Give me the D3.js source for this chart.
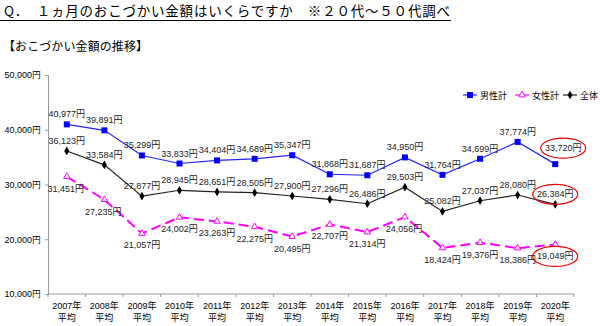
<!DOCTYPE html>
<html>
<head>
<meta charset="utf-8">
<script src="https://cdn.jsdelivr.net/npm/d3@7"></script>
<style>
  body { margin: 0; background: #fff; }
  svg { display: block; font-family: "Liberation Sans", Arial, "Noto Sans CJK JP", sans-serif; }
</style>
</head>
<body>
<div id="chart"></div>
<script>
// data
const years = ["2007年","2008年","2009年","2010年","2011年","2012年","2013年","2014年","2015年","2016年","2017年","2018年","2019年","2020年"];
const male = [40977, 39891, 35299, 33833, 34404, 34689, 35347, 31868, 31687, 34950, 31764, 34699, 37774, 33720];
const female = [31451, 27235, 21057, 24002, 23263, 22275, 20495, 22707, 21314, 24056, 18424, 19376, 18386, 19049];
const total = [36123, 33584, 27877, 28945, 28651, 28505, 27900, 27296, 26486, 29503, 25082, 27037, 28080, 26384];
const yTicks = [10000, 20000, 30000, 40000, 50000];
const seriesNames = ["男性計", "女性計", "全体"];

const W = 600, H = 326;
const margin = {top: 75, right: 26, bottom: 32, left: 48};
const width = W - margin.left - margin.right,
      height = H - margin.top - margin.bottom;

const svg = d3.select("#chart").append("svg")
    .attr("width", W).attr("height", H);

// title
svg.append("text")
    .attr("x", 4).attr("y", 16)
    .style("font-family", "'Noto Sans CJK JP', sans-serif")
    .style("font-size", "13.5px")
    .attr("textLength", 446).attr("lengthAdjust", "spacing")
    .text("Q．　１ヵ月のおこづかい金額はいくらですか　※２０代～５０代調べ");
svg.append("line")
    .attr("x1", 0).attr("x2", 451).attr("y1", 20.5).attr("y2", 20.5)
    .attr("stroke", "#000").attr("stroke-width", 1.2);
svg.append("text")
    .attr("x", 3).attr("y", 51)
    .style("font-family", "'Noto Sans CJK JP', sans-serif")
    .style("font-size", "12px")
    .attr("textLength", 145).attr("lengthAdjust", "spacing")
    .text("【おこづかい金額の推移】");

const g = svg.append("g")
    .attr("transform", "translate(" + margin.left + "," + margin.top + ")");

const x = d3.scaleBand().domain(years).range([0, width]);
const y = d3.scaleLinear().domain([10000, 50000]).range([height, 0]);
const cx = d => x(d) + x.bandwidth() / 2;

// y axis
const yAxis = g.append("g")
    .call(d3.axisLeft(y).tickValues(yTicks).tickSize(3).tickPadding(4)
      .tickFormat(d => d3.format(",")(d) + "円"));
yAxis.select(".domain").attr("stroke", "#999");
yAxis.selectAll(".tick line").attr("stroke", "#999");
yAxis.selectAll("text").style("font-size", "9px").attr("fill", "#000");

// x axis
const xAxis = g.append("g").attr("transform", "translate(0," + height + ")");
xAxis.append("line").attr("x1", 0).attr("x2", width).attr("stroke", "#999");
xAxis.selectAll("line.tk").data(d3.range(years.length + 1)).enter().append("line")
    .attr("class", "tk")
    .attr("x1", i => i * x.bandwidth()).attr("x2", i => i * x.bandwidth())
    .attr("y1", 0).attr("y2", 3).attr("stroke", "#999");
const xl = xAxis.selectAll("text").data(years).enter().append("text")
    .attr("text-anchor", "middle")
    .style("font-size", "9px");
xl.append("tspan").attr("x", d => cx(d)).attr("y", 15).text(d => d);
xl.append("tspan").attr("x", d => cx(d)).attr("y", 27).text("平均");

const fmt = v => d3.format(",")(v) + "円";
const line = d3.line().x((v, i) => cx(years[i])).y(v => y(v));

// female
g.append("path").datum(female).attr("d", line)
    .attr("fill", "none").attr("stroke", "#ff00ff").attr("stroke-width", 2)
    .attr("stroke-dasharray", "10,5");
g.selectAll(".fm").data(female).enter().append("path")
    .attr("transform", (v, i) => "translate(" + cx(years[i]) + "," + y(v) + ")")
    .attr("d", d3.symbol(d3.symbolTriangle, 18))
    .attr("fill", "#fff").attr("stroke", "#ff00ff").attr("stroke-width", 1);

// total
g.append("path").datum(total).attr("d", line)
    .attr("fill", "none").attr("stroke", "#222").attr("stroke-width", 1.2);
g.selectAll(".tm").data(total).enter().append("path")
    .attr("transform", (v, i) => "translate(" + cx(years[i]) + "," + y(v) + ")")
    .attr("d", d3.symbol(d3.symbolDiamond, 22))
    .attr("fill", "#000");

// male
g.append("path").datum(male).attr("d", line)
    .attr("fill", "none").attr("stroke", "#2222ff").attr("stroke-width", 1.2);
g.selectAll(".mm").data(male).enter().append("rect")
    .attr("x", (v, i) => cx(years[i]) - 3).attr("y", v => y(v) - 3)
    .attr("width", 6).attr("height", 6).attr("fill", "#0000ff");

// labels
function labels(vals, dx, dy) {
  g.selectAll(null).data(vals).enter().append("text")
    .attr("x", (v, i) => cx(years[i]) + (typeof dx === "function" ? dx(i) : dx))
    .attr("y", (v, i) => y(v) + (typeof dy === "function" ? dy(i) : dy))
    .attr("text-anchor", "middle")
    .style("font-size", "9px")
    .attr("fill", "#222")
    .text(fmt);
}
labels(male, i => i === 13 ? 8 : 0, i => i === 13 ? -13 : -7);
labels(total, 0, -7);
labels(female, i => [0, 9].includes(i) ? -1 : (i === 1 ? -1 : 0), 15);

// red ellipses on last values
const last = years.length - 1;
[[male[last], 8, -16], [total[last], 0, -10], [female[last], 0, 12]].forEach(([v, dx, dy]) => {
  g.append("ellipse")
    .attr("cx", cx(years[last]) + dx).attr("cy", y(v) + dy)
    .attr("rx", 22.5).attr("ry", 10)
    .attr("fill", "none").attr("stroke", "#e00").attr("stroke-width", 1.2);
});

// legend
const legend = svg.append("g").attr("transform", "translate(463,95)");
const lx = [0, 52, 100];
const lc = ["#2222ff", "#ff00ff", "#222"];
seriesNames.forEach((n, i) => {
  const lg = legend.append("g").attr("transform", "translate(" + lx[i] + ",0)");
  lg.append("line").attr("x1", 0).attr("x2", 14).attr("stroke", lc[i]).attr("stroke-width", 1.2);
  if (i === 0) lg.append("rect").attr("x", 4).attr("y", -3).attr("width", 6).attr("height", 6).attr("fill", "#0000ff");
  if (i === 1) lg.append("path").attr("transform", "translate(7,0)").attr("d", d3.symbol(d3.symbolTriangle, 18)).attr("fill", "#fff").attr("stroke", "#ff00ff");
  if (i === 2) lg.append("path").attr("transform", "translate(7,0)").attr("d", d3.symbol(d3.symbolDiamond, 22)).attr("fill", "#000");
  lg.append("text").attr("x", 17).attr("y", 3.5).style("font-size", "9px").text(n);
});
</script>
</body>
</html>
